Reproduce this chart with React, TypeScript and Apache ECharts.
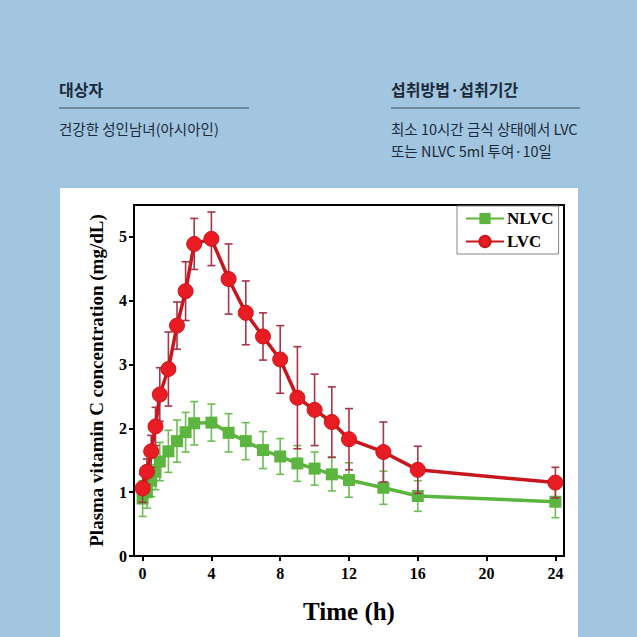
import React, { useEffect, useRef } from "react";
import * as echarts from "echarts";

const times = [0, 0.25, 0.5, 0.75, 1, 1.5, 2, 2.5, 3, 4, 5, 6, 7, 8, 9, 10, 11, 12, 14, 16, 24];
const lvcMean = [1.06, 1.32, 1.64, 2.03, 2.53, 2.93, 3.61, 4.15, 4.89, 4.97, 4.34, 3.81, 3.44, 3.08, 2.48, 2.29, 2.1, 1.83, 1.63, 1.35, 1.15];
const lvcSd = [0.22, 0.2, 0.25, 0.3, 0.42, 0.58, 0.37, 0.46, 0.4, 0.42, 0.55, 0.5, 0.37, 0.53, 0.8, 0.56, 0.55, 0.48, 0.47, 0.37, 0.24];
const nlvcMean = [0.9, 1.0, 1.18, 1.32, 1.48, 1.64, 1.8, 1.94, 2.08, 2.09, 1.93, 1.8, 1.66, 1.56, 1.45, 1.37, 1.28, 1.19, 1.07, 0.94, 0.85];
const nlvcSd = [0.28, 0.25, 0.25, 0.28, 0.3, 0.33, 0.33, 0.31, 0.34, 0.29, 0.3, 0.29, 0.29, 0.28, 0.28, 0.26, 0.26, 0.27, 0.26, 0.24, 0.25];
const xTicks = [0, 4, 8, 12, 16, 20, 24];
const yTicks = [0, 1, 2, 3, 4, 5];

const headLeftTitle = "대상자";
const headLeftBody = "건강한 성인남녀(아시아인)";
const headRightTitle = "섭취방법·섭취기간";
const headRightBody1 = "최소 10시간 금식 상태에서 LVC";
const headRightBody2 = "또는 NLVC 5ml 투여·10일";

const SERIF = "'Liberation Serif', 'Times New Roman', serif";
const KR = "'Noto Sans CJK KR', sans-serif";

function errData(mean: number[], sd: number[]) {
  return times.map((t, i) => [t, mean[i] - sd[i], mean[i] + sd[i]]);
}

function errRender(color: string) {
  return (params: any, api: any) => {
    const x = api.value(0);
    const lo = api.coord([x, api.value(1)]);
    const hi = api.coord([x, api.value(2)]);
    const hw = 4;
    const style = { stroke: color, lineWidth: 1.6, fill: null };
    return {
      type: "group",
      children: [
        { type: "line", shape: { x1: lo[0], y1: lo[1], x2: hi[0], y2: hi[1] }, style },
        { type: "line", shape: { x1: lo[0] - hw, y1: lo[1], x2: lo[0] + hw, y2: lo[1] }, style },
        { type: "line", shape: { x1: hi[0] - hw, y1: hi[1], x2: hi[0] + hw, y2: hi[1] }, style },
      ],
    };
  };
}

export default function App() {
  const ref = useRef<HTMLDivElement>(null);
  useEffect(() => {
    if (!ref.current) return;
    const chart = echarts.init(ref.current, null, { renderer: "svg" });
    const headColor = "#1c2a3a";
    chart.setOption({
      animation: false,
      backgroundColor: "#a3c6e0",
      graphic: [
        { type: "rect", z: -10, shape: { x: 60, y: 188, width: 518, height: 460 }, style: { fill: "#ffffff" } },
        { type: "text", x: 59, y: 89, style: { text: headLeftTitle, font: `bold 16px ${KR}`, fill: headColor, verticalAlign: "middle" } },
        { type: "line", shape: { x1: 59, y1: 108, x2: 249, y2: 108 }, style: { stroke: "#3d4d5e", lineWidth: 1.2 } },
        { type: "text", x: 59, y: 128, style: { text: headLeftBody, font: `14.5px ${KR}`, fill: headColor, verticalAlign: "middle" } },
        { type: "text", x: 391, y: 89, style: { text: headRightTitle, font: `bold 16px ${KR}`, fill: headColor, verticalAlign: "middle" } },
        { type: "line", shape: { x1: 391, y1: 108, x2: 580, y2: 108 }, style: { stroke: "#3d4d5e", lineWidth: 1.2 } },
        { type: "text", x: 391, y: 128, style: { text: headRightBody1, font: `14.5px ${KR}`, fill: headColor, verticalAlign: "middle" } },
        { type: "text", x: 391, y: 150, style: { text: headRightBody2, font: `14.5px ${KR}`, fill: headColor, verticalAlign: "middle" } },
      ],
      grid: {
        left: 134,
        right: 73,
        top: 205,
        bottom: 81,
        show: true,
        borderColor: "#000",
        borderWidth: 2,
        backgroundColor: "transparent",
      },
      legend: {
        data: ["NLVC", "LVC"],
        orient: "vertical",
        left: 457,
        top: 206,
        padding: [4, 5, 4, 8],
        itemGap: 6,
        itemWidth: 38,
        itemHeight: 14,
        backgroundColor: "#fff",
        borderColor: "#888",
        borderWidth: 1,
        borderRadius: 0,
        textStyle: { fontFamily: SERIF, fontWeight: "bold", fontSize: 17, color: "#000", padding: [0, 0, 0, -2] },
      },
      xAxis: {
        type: "value",
        min: -0.5,
        max: 24.5,
        name: "Time (h)",
        nameLocation: "middle",
        nameGap: 43,
        nameTextStyle: { fontFamily: SERIF, fontWeight: "bold", fontSize: 25, color: "#000" },
        axisLine: { show: true, onZero: false, lineStyle: { color: "#000", width: 2 } },
        axisTick: { show: true, inside: false, length: 5, customValues: xTicks, lineStyle: { color: "#000", width: 2 } },
        axisLabel: { customValues: xTicks, fontFamily: SERIF, fontWeight: "bold", fontSize: 16, color: "#000", margin: 9 },
        splitLine: { show: false },
      },
      yAxis: {
        type: "value",
        min: 0,
        max: 5.5,
        name: "Plasma vitamin C concentration (mg/dL)",
        nameLocation: "middle",
        nameGap: 28,
        nameTextStyle: { fontFamily: SERIF, fontWeight: "bold", fontSize: 19, color: "#000" },
        axisLine: { show: true, onZero: false, lineStyle: { color: "#000", width: 2 } },
        axisTick: { show: true, inside: false, length: 5, customValues: yTicks, lineStyle: { color: "#000", width: 2 } },
        axisLabel: { customValues: yTicks, fontFamily: SERIF, fontWeight: "bold", fontSize: 16, color: "#000", margin: 7 },
        splitLine: { show: false },
      },
      series: [
        {
          type: "custom",
          name: "nlvcErr",
          data: errData(nlvcMean, nlvcSd),
          renderItem: errRender("#6dbd52"),
          z: 2,
          silent: true,
        },
        {
          type: "line",
          name: "NLVC",
          data: times.map((t, i) => [t, nlvcMean[i]]),
          symbol: "rect",
          symbolSize: 12,
          lineStyle: { color: "#5cb53e", width: 3.5 },
          itemStyle: { color: "#5cb53e" },
          z: 3,
        },
        {
          type: "custom",
          name: "lvcErr",
          data: errData(lvcMean, lvcSd),
          renderItem: errRender("#a8344a"),
          z: 4,
          silent: true,
        },
        {
          type: "line",
          name: "LVC",
          data: times.map((t, i) => [t, lvcMean[i]]),
          symbol: "circle",
          symbolSize: 15,
          lineStyle: { color: "#c8161c", width: 3.5 },
          itemStyle: { color: "#e81c22", borderColor: "#c8161c", borderWidth: 1 },
          z: 5,
        },
      ],
    });
    return () => chart.dispose();
  }, []);
  return (
    <div
      ref={ref}
      style={{ position: "absolute", left: 0, top: 0, width: 637, height: 637 }}
    />
  );
}
